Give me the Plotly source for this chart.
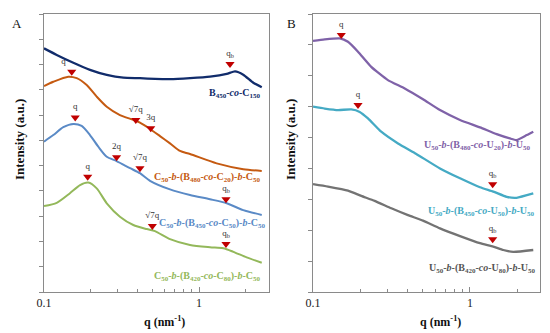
import math
import plotly.graph_objects as go

FONT = "Liberation Serif"

# ---------------- Panel A data ----------------
q_b450 = [0.1, 0.1208, 0.1546, 0.198, 0.254, 0.325, 0.416, 0.520, 0.650, 0.875, 1.178, 1.51, 1.707, 1.93, 2.24, 2.54]
i_b450 = [9.64, 9.38, 9.07, 8.79, 8.59, 8.48, 8.46, 8.43, 8.42, 8.46, 8.52, 8.63, 8.73, 8.60, 8.28, 8.10]

q_c20 = [0.1, 0.1148, 0.1435, 0.1626, 0.1886, 0.2188, 0.254, 0.309, 0.377, 0.416, 0.483, 0.560, 0.650, 0.754, 0.875, 1.30, 1.93, 2.54]
i_c20 = [8.15, 8.32, 8.52, 8.46, 8.19, 7.73, 7.33, 7.00, 6.81, 6.70, 6.45, 6.17, 5.88, 5.58, 5.46, 5.09, 4.86, 4.79]

q_c50 = [0.1, 0.1148, 0.1332, 0.1546, 0.175, 0.198, 0.224, 0.254, 0.294, 0.359, 0.416, 0.483, 0.650, 0.875, 1.178, 1.51, 1.93, 2.54]
i_c50 = [5.95, 6.21, 6.52, 6.65, 6.57, 6.21, 5.75, 5.35, 5.18, 4.90, 4.70, 4.40, 4.06, 3.84, 3.67, 3.51, 3.24, 3.05]

q_c80 = [0.1, 0.1208, 0.147, 0.1708, 0.193, 0.2188, 0.254, 0.309, 0.377, 0.460, 0.520, 0.650, 0.875, 1.178, 1.435, 1.664, 2.03, 2.54]
i_c80 = [3.40, 3.53, 3.91, 4.23, 4.33, 4.10, 3.51, 2.98, 2.65, 2.49, 2.41, 2.09, 1.86, 1.77, 1.73, 1.59, 1.37, 1.16]

mkA_q = [1.585, 0.151, 0.391, 0.488, 0.159, 0.294, 0.416, 1.493, 0.1914, 0.500, 1.493]
mkA_i = [9.02, 8.71, 6.81, 6.48, 6.90, 5.33, 4.90, 3.67, 4.56, 2.61, 1.90]
mkA_t = ["q<sub>b</sub>", "q", "√7q", "3q", "q", "2q", "√7q", "q<sub>b</sub>", "q", "√7q", "q<sub>b</sub>"]
mkA_pos = ["top center", "top left", "top center", "top center", "top center", "top center",
           "top center", "top center", "top center", "top center", "top center"]

# ---------------- Panel B data ----------------
q_u20 = [0.1, 0.1187, 0.148, 0.167, 0.1935, 0.235, 0.300, 0.384, 0.502, 0.644, 0.864, 1.158, 1.479, 1.798, 1.98, 2.30, 2.53]
i_u20 = [8.13, 8.18, 8.21, 8.10, 7.78, 7.29, 6.86, 6.59, 6.24, 5.89, 5.57, 5.33, 5.11, 4.97, 4.92, 5.08, 5.19]

q_u50 = [0.1, 0.1187, 0.1442, 0.1754, 0.1984, 0.224, 0.272, 0.348, 0.455, 0.644, 0.864, 1.158, 1.407, 1.713, 1.98, 2.53]
i_u50 = [6.00, 5.94, 5.89, 5.91, 5.83, 5.62, 5.19, 4.81, 4.47, 4.00, 3.68, 3.39, 3.25, 3.08, 3.05, 3.19]

q_u80 = [0.1, 0.1246, 0.167, 0.203, 0.247, 0.3155, 0.403, 0.502, 0.644, 0.864, 1.158, 1.407, 1.63, 1.888, 2.53]
i_u80 = [3.49, 3.41, 3.28, 3.11, 2.95, 2.71, 2.49, 2.31, 2.06, 1.81, 1.58, 1.47, 1.36, 1.30, 1.36]

mkB_q = [0.1514, 0.1935, 1.395, 1.395]
mkB_i = [8.32, 6.05, 3.49, 1.71]
mkB_t = ["q", "q", "q<sub>b</sub>", "q<sub>b</sub>"]

C_NAVY = "#112c6b"
C_ORANGE = "#c55a11"
C_BLUE = "#5a8ac6"
C_GREEN = "#93b85a"
C_PURPLE = "#7f62a8"
C_TEAL = "#45aac4"
C_GRAY = "#737373"
C_RED = "#c00000"

# page body has an 8px default margin: the figure is sized to what remains visible
OFF = 8
W, H = 550 - OFF, 333 - OFF
def px(x):
    return (x - OFF) / W
def py(y):
    return 1 - (y - OFF) / H

fig = go.Figure()

def line(q, i, color, xa, ya, w=2.0, sm=0.5):
    fig.add_trace(go.Scatter(x=q, y=i, mode="lines", line=dict(color=color, width=w, shape="spline", smoothing=sm),
                             xaxis=xa, yaxis=ya, showlegend=False, hoverinfo="skip"))

line(q_b450, i_b450, C_NAVY, "x", "y", 2.3)
line(q_c20, i_c20, C_ORANGE, "x", "y", 2.0, 0.7)
line(q_c50, i_c50, C_BLUE, "x", "y", 2.0, 0.7)
line(q_c80, i_c80, C_GREEN, "x", "y", 2.0, 0.7)
line(q_u20, i_u20, C_PURPLE, "x2", "y2", 2.3)
line(q_u50, i_u50, C_TEAL, "x2", "y2", 2.3)
line(q_u80, i_u80, C_GRAY, "x2", "y2", 2.3)

fig.add_trace(go.Scatter(x=mkA_q, y=mkA_i, mode="markers+text", text=mkA_t, textposition=mkA_pos,
                         marker=dict(symbol="triangle-down", size=8, color=C_RED),
                         textfont=dict(family=FONT, size=9, color="#333333"),
                         xaxis="x", yaxis="y", showlegend=False, hoverinfo="skip", cliponaxis=False))
fig.add_trace(go.Scatter(x=mkB_q, y=mkB_i, mode="markers+text", text=mkB_t, textposition="top center",
                         marker=dict(symbol="triangle-down", size=8, color=C_RED),
                         textfont=dict(family=FONT, size=9, color="#333333"),
                         xaxis="x2", yaxis="y2", showlegend=False, hoverinfo="skip", cliponaxis=False))

AX = "#8a8a8a"
xcommon = dict(type="log", tickvals=[0.1, 1], ticktext=["0.1", "1"], ticks="inside", ticklen=5,
               tickcolor=AX, showline=True, linecolor=AX, linewidth=1, mirror=True, showgrid=False,
               zeroline=False, automargin=False, tickfont=dict(family=FONT, size=12, color="#222222"),
               minor=dict(tickvals=[0.2, 0.3, 0.4, 0.5, 0.6, 0.7, 0.8, 0.9, 2], ticks="inside",
                          ticklen=3, tickcolor=AX, showgrid=False))
ycommon = dict(ticks="outside", ticklen=4, tickcolor=AX, showticklabels=False, showline=True,
               linecolor=AX, linewidth=1, mirror=True, showgrid=False, zeroline=False, automargin=False)

fig.update_layout(
    template="none",
    width=W, height=H, margin=dict(l=0, r=0, t=0, b=0, pad=0, autoexpand=False),
    paper_bgcolor="white", plot_bgcolor="white", showlegend=False,
    xaxis=dict(domain=[px(44), px(269)], range=[-1, 0.4516], anchor="y", **xcommon),
    xaxis2=dict(domain=[px(313), px(540)], range=[-1, 0.446], anchor="y2", **xcommon),
    yaxis=dict(domain=[py(292), py(14)], range=[0, 11], tickvals=list(range(12)), anchor="x", **ycommon),
    yaxis2=dict(domain=[py(292), py(14)], range=[0, 9], tickvals=list(range(10)), anchor="x2", **ycommon),
)

def ann(x, y, text, color, xref, yref, size=10, xanchor="right"):
    fig.add_annotation(x=x, y=y, xref=xref, yref=yref, text=text, showarrow=False, xanchor=xanchor,
                       yanchor="middle", font=dict(family=FONT, size=size, color=color))

lg = math.log10
ann(lg(2.58), 7.87, "<b>B<sub>450</sub>-<i>co</i>-C<sub>150</sub></b>", C_NAVY, "x", "y")
ann(lg(2.58), 4.54, "<b>C<sub>50</sub>-<i>b</i>-(B<sub>480</sub>-<i>co</i>-C<sub>20</sub>)-<i>b</i>-C<sub>50</sub></b>", C_ORANGE, "x", "y")
ann(lg(2.79), 2.70, "<b>C<sub>50</sub>-<i>b</i>-(B<sub>450</sub>-<i>co</i>-C<sub>50</sub>)-<i>b</i>-C<sub>50</sub></b>", C_BLUE, "x", "y")
ann(lg(2.58), 0.63, "<b>C<sub>50</sub>-<i>b</i>-(B<sub>420</sub>-<i>co</i>-C<sub>80</sub>)-<i>b</i>-C<sub>50</sub></b>", C_GREEN, "x", "y")
ann(lg(2.53), 4.73, "<b>U<sub>50</sub>-<i>b</i>-(B<sub>480</sub>-<i>co</i>-U<sub>20</sub>)-<i>b</i>-U<sub>50</sub></b>", C_PURPLE, "x2", "y2")
ann(lg(2.67), 2.60, "<b>U<sub>50</sub>-<i>b</i>-(B<sub>450</sub>-<i>co</i>-U<sub>50</sub>)-<i>b</i>-U<sub>50</sub></b>", C_TEAL, "x2", "y2")
ann(lg(2.71), 0.77, "<b>U<sub>50</sub>-<i>b</i>-(B<sub>420</sub>-<i>co</i>-U<sub>80</sub>)-<i>b</i>-U<sub>50</sub></b>", "#555555", "x2", "y2")

# axis titles and panel letters
for xp in [20, 291]:
    fig.add_annotation(x=px(xp), y=py(140), xref="paper", yref="paper", text="<b>Intensity (a.u.)</b>",
                       textangle=-90, showarrow=False, xanchor="center", yanchor="middle",
                       font=dict(family=FONT, size=13, color="#111111"))
for xp in [164, 440]:
    fig.add_annotation(x=px(xp), y=py(321), xref="paper", yref="paper", text="<b>q (nm<sup>-1</sup>)</b>",
                       showarrow=False, xanchor="center", yanchor="middle",
                       font=dict(family=FONT, size=12, color="#111111"))
fig.add_annotation(x=px(17), y=py(23), xref="paper", yref="paper", text="A", showarrow=False,
                   xanchor="center", yanchor="middle", font=dict(family=FONT, size=13, color="#111111"))
fig.add_annotation(x=px(291), y=py(23), xref="paper", yref="paper", text="B", showarrow=False,
                   xanchor="center", yanchor="middle", font=dict(family=FONT, size=13, color="#111111"))

fig.write_html("out.html")
